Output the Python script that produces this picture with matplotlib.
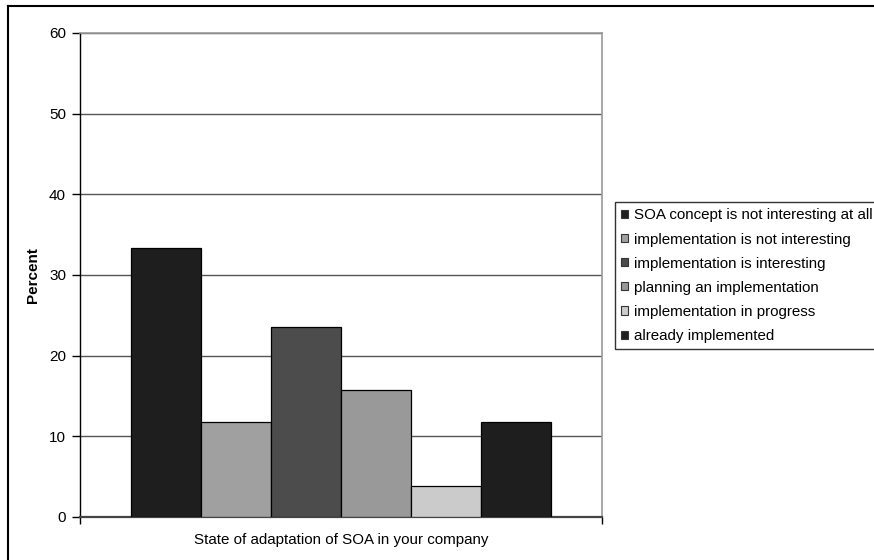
import matplotlib
matplotlib.use("Agg")
import matplotlib.pyplot as plt
import numpy as np
from matplotlib.lines import Line2D

plt.rcParams['font.family'] = ['Liberation Sans', 'DejaVu Sans']

categories = ["SOA concept is not interesting at all",
              "implementation is not interesting",
              "implementation is interesting",
              "planning an implementation",
              "implementation in progress",
              "already implemented"]
values = [33.3, 11.8, 23.5, 15.7, 3.9, 11.8]
colors = ["#1e1e1e", "#a0a0a0", "#4c4c4c", "#999999", "#cbcbcb", "#1e1e1e"]
yticks = [0, 10, 20, 30, 40, 50, 60]
xlabel = "State of adaptation of SOA in your company"
ylabel = "Percent"

W, H = 874, 560
fig = plt.figure(figsize=(W / 100, H / 100), dpi=100)
ax_w, ax_h = (602 - 80), (517 - 33)
ax = fig.add_axes([80 / W, 1 - 517 / H, ax_w / W, ax_h / H])

n = len(values)
group = 0.805
bw = group / n
xs = -group / 2 + bw / 2 + np.arange(n) * bw
bars = ax.bar(xs, values, width=bw, color=colors, edgecolor="black",
              linewidth=0.9, zorder=3)

ax.set_xlim(-0.5, 0.5)
ax.set_ylim(0, 60)
ax.set_yticks(yticks)
ax.set_yticklabels([str(t) for t in yticks], fontsize=11)
ax.set_xticks([-0.5, 0.5])
ax.set_xticklabels(["", ""])
ax.tick_params(axis='y', direction='out', length=6, width=1, color='black', pad=4)
ax.tick_params(axis='x', direction='out', length=5, width=1, color='black')
ax.yaxis.grid(True, color="#555555", linewidth=1, zorder=0)
ax.set_axisbelow(True)

ax.spines['left'].set_color('black')
ax.spines['left'].set_linewidth(1)
ax.spines['bottom'].set_color('#444444')
ax.spines['bottom'].set_linewidth(1.6)
ax.spines['right'].set_color('#999999')
ax.spines['right'].set_linewidth(1.2)
ax.spines['top'].set_color('#999999')
ax.spines['top'].set_linewidth(1.2)

ax.set_xlabel(xlabel, fontsize=10.9)
ax.xaxis.set_label_coords(0.5, -(540 - 517) / ax_h)
ax.xaxis.label.set_va('center')
ax.set_ylabel(ylabel, fontsize=11, fontweight='bold')
ax.yaxis.set_label_coords(-(80 - 33) / ax_w, 0.5)
ax.yaxis.label.set_va('center')

handles = [plt.Rectangle((0, 0), 1, 1, facecolor=c, edgecolor='#333333', linewidth=0.8)
           for c in colors]
leg = fig.legend(handles, categories, loc='upper left',
                 bbox_to_anchor=(615 / W, 1 - 202 / H),
                 bbox_transform=fig.transFigure,
                 fontsize=10.9, frameon=True, fancybox=False, shadow=False,
                 handlelength=0.45, handleheight=0.45, handletextpad=0.4,
                 labelspacing=0.67, borderpad=0.42, borderaxespad=0)
leg.get_frame().set_edgecolor('black')
leg.get_frame().set_linewidth(1)

# outer chart border (clipped at right/bottom in the reference)
fig.add_artist(Line2D([8 / W, 1.0], [1 - 6 / H, 1 - 6 / H], transform=fig.transFigure,
                      color='black', linewidth=1.5))
fig.add_artist(Line2D([8 / W, 8 / W], [0.0, 1 - 6 / H], transform=fig.transFigure,
                      color='black', linewidth=1.5))

fig.savefig("out.png", dpi=100)
